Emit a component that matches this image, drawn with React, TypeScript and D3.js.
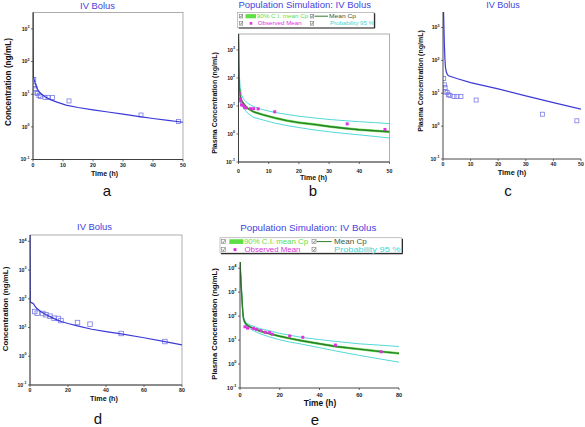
import React from "react";
import * as d3 from "d3";

// ---------- data ----------
// Observed mean concentrations, study 1 (panels a, b, c)
const obsTime1 = [0.25, 0.5, 0.75, 1, 1.5, 2, 2.5, 4, 5, 6.5, 12, 36, 48.5];
const obsConc1 = [28, 18, 15, 11, 10.5, 9, 8.5, 8, 8, 7.9, 6.2, 2.3, 1.45];
// Observed mean concentrations, study 2 (panels d, e)
const obsTime2 = [2.5, 3.8, 6.8, 8.4, 10.5, 12.7, 14.9, 16.3, 25, 31.6, 48, 71];
const obsConc2 = [36, 31.6, 30.8, 27.7, 24.8, 21.2, 20.6, 17.5, 14.9, 13.1, 6.2, 3.25];

// Fitted curve, panel a
const fitTimeA = [0, 0.05, 0.15, 0.3, 0.6, 1, 1.5, 2, 3, 4, 6, 8, 11, 15, 20, 25, 30, 35, 40, 45, 50];
const fitConcA = [5000, 300, 35, 30, 24, 18, 14, 12, 9.8, 8.3, 6.7, 5.7, 4.6, 3.9, 3.3, 2.85, 2.45, 2.1, 1.8, 1.58, 1.38];
// Predicted curve, panel c
const fitTimeC = [0.2, 0.35, 0.5, 0.7, 0.9, 1.2, 1.6, 2, 5, 10, 20, 30, 40, 50];
const fitConcC = [3000, 900, 300, 110, 60, 44, 37, 34, 28, 21, 13.5, 8.3, 5.2, 3.3];
// Fitted curve, panel d
const fitTimeD = [0, 0.15, 0.5, 1, 1.8, 2.5, 3.5, 5, 6.2, 8, 10.5, 13, 16, 20, 25, 32.5, 40, 48, 60, 71, 80];
const fitConcD = [20000, 77, 75, 72, 67, 57, 47, 39, 34, 29, 24, 20, 16.5, 13.8, 11.4, 8.7, 7.2, 6.0, 4.4, 3.25, 2.5];

// Population simulation, panel b
const simTimeB = [0, 0.1, 0.3, 0.55, 1, 1.5, 2, 3, 5, 8, 12, 16, 20, 25, 30, 35, 40, 45, 50];
const simMeanB = [4000, 300, 45, 24, 16, 13, 11, 8.3, 6.2, 4.9, 3.75, 3.0, 2.55, 2.2, 1.85, 1.6, 1.42, 1.3, 1.2];
const simCiHighB = [4000, 320, 48, 25.5, 17, 13.8, 11.7, 8.8, 6.6, 5.2, 4.0, 3.2, 2.72, 2.35, 1.98, 1.71, 1.52, 1.39, 1.28];
const simCiLowB = [4000, 280, 42, 22.5, 15, 12.2, 10.3, 7.8, 5.8, 4.6, 3.5, 2.8, 2.38, 2.05, 1.73, 1.5, 1.33, 1.22, 1.12];
const simP95HighB = [4000, 1000, 120, 45, 25, 19, 16, 12.5, 9.5, 7.4, 5.9, 5.0, 4.3, 3.75, 3.3, 3.0, 2.75, 2.55, 2.35];
const simP95LowB = [4000, 100, 25, 15, 11, 9, 7.5, 5.6, 3.9, 3.2, 2.45, 2.0, 1.7, 1.4, 1.2, 1.05, 0.93, 0.82, 0.72];

// Population simulation, panel e
const simTimeE = [0, 0.5, 1, 1.4, 1.8, 2.5, 3.4, 5, 7, 10, 14.3, 20, 25, 31, 40, 48.3, 60, 71, 80];
const simMeanE = [20000, 2500, 500, 150, 75, 55, 43, 36, 30, 24, 19, 14.5, 11.8, 9.4, 7.0, 5.4, 4.2, 3.3, 2.8];
const simCiHighE = [20000, 2650, 530, 160, 80, 59, 46, 38.5, 32, 25.7, 20.3, 15.5, 12.6, 10.1, 7.5, 5.8, 4.5, 3.55, 3.0];
const simCiLowE = [20000, 2350, 470, 140, 70, 51, 40, 33.5, 28, 22.3, 17.7, 13.5, 11.0, 8.7, 6.5, 5.0, 3.9, 3.05, 2.6];
const simP95HighE = [20000, 2800, 600, 180, 85, 62, 50, 43, 37, 30, 25, 19, 16, 13, 10.5, 8.8, 7.0, 6.1, 5.4];
const simP95LowE = [20000, 2200, 420, 120, 65, 48, 37, 30, 24, 18.5, 14, 10.3, 8.3, 6.8, 4.8, 3.5, 2.3, 1.6, 1.2];

// ticks and labels
const xTicks50 = [0, 10, 20, 30, 40, 50];
const xTicks80 = [0, 20, 40, 60, 80];
const yExps3 = [-1, 0, 1, 2, 3];
const yExps4 = [-1, 0, 1, 2, 3, 4];
const legendLabels = ["90% C.I. mean Cp", "Mean Cp", "Observed Mean", "Probability 95 %"];

// ---------- style ----------
const FONT = "'Liberation Sans', Arial, Helvetica, sans-serif";
const BLUE = "#3a3ad6";
const OBS_BLUE = "#7a7ae8";
const TITLE_BLUE = "#4444e0";
const MAGENTA = "#dd33dd";
const CYAN = "#3fd4d4";
const GREEN_DARK = "#2c7d2c";
const GREEN_LIGHT = "#5ede45";

type Geo = {
  id: string;
  x0: number; x1: number; top: number; bottom: number;
  xMax: number; yMax: number; xTicks: number[]; yExps: number[];
  frame: boolean;
  title: string; titleX: number; titleY: number; titleSize: number;
  yLabel: string; yLabelX: number; yLabelY: number; yLabelSize: number;
  xLabelX: number; xLabelY: number; xLabelSize: number; xTickY: number;
  tickSize: number;
  letter: string; letterX: number; letterY: number;
};

type Sc = { x: d3.ScaleLinear<number, number>; y: d3.ScaleLogarithmic<number, number> };

function Panel({ g, render }: { g: Geo; render: (s: Sc) => React.ReactNode }) {
  const x = d3.scaleLinear().domain([0, g.xMax]).range([g.x0, g.x1]);
  const y = d3.scaleLog().domain([0.1, g.yMax]).range([g.bottom, g.top]);
  const ts = g.tickSize;
  return (
    <g>
      <defs>
        <clipPath id={`clip-${g.id}`}>
          <rect x={g.x0} y={g.top} width={g.x1 - g.x0} height={g.bottom - g.top} />
        </clipPath>
      </defs>
      {g.frame && (
        <rect x={g.x0} y={g.top} width={g.x1 - g.x0} height={g.bottom - g.top} fill="none" stroke="#9a9a9a" strokeWidth={0.8} />
      )}
      <g clipPath={`url(#clip-${g.id})`}>{render({ x, y })}</g>
      <line x1={g.x0} x2={g.x0} y1={g.top} y2={g.bottom} stroke="#333" strokeWidth={0.9} />
      <line x1={g.x0} x2={g.x1} y1={g.bottom} y2={g.bottom} stroke="#333" strokeWidth={0.9} />
      {g.yExps.map((e) => {
        const yy = y(Math.pow(10, e));
        return (
          <g key={`y${e}`}>
            <line x1={g.x0 - 2} x2={g.x0} y1={yy} y2={yy} stroke="#333" strokeWidth={0.7} />
            <text x={g.x0 - 3.5} y={yy + ts * 0.35} fontSize={ts} fontFamily={FONT} fontWeight="bold" textAnchor="end" fill="#222">
              10<tspan dy={-ts * 0.5} fontSize={ts * 0.7}>{e}</tspan>
            </text>
          </g>
        );
      })}
      {g.xTicks.map((t) => (
        <g key={`x${t}`}>
          <line x1={x(t)} x2={x(t)} y1={g.bottom} y2={g.bottom + 2} stroke="#333" strokeWidth={0.7} />
          <text x={x(t)} y={g.xTickY} fontSize={ts} fontFamily={FONT} fontWeight="bold" textAnchor="middle" fill="#222">{t}</text>
        </g>
      ))}
      <text x={g.titleX} y={g.titleY} fontSize={g.titleSize} fontFamily={FONT} textAnchor="middle" fill={TITLE_BLUE}>{g.title}</text>
      <text transform={`translate(${g.yLabelX},${g.yLabelY}) rotate(-90)`} fontSize={g.yLabelSize} fontFamily={FONT} fontWeight="bold" textAnchor="middle" dominantBaseline="central" fill="#111">{g.yLabel}</text>
      <text x={g.xLabelX} y={g.xLabelY} fontSize={g.xLabelSize} fontFamily={FONT} fontWeight="bold" textAnchor="middle" dominantBaseline="central" fill="#111">Time (h)</text>
      <text x={g.letterX} y={g.letterY} fontSize={15} fontFamily={FONT} textAnchor="middle" fill="#111">{g.letter}</text>
    </g>
  );
}

function zip(t: number[], c: number[]): [number, number][] {
  return t.map((v, i) => [v, c[i]]);
}

function linePath(s: Sc, t: number[], c: number[]) {
  return d3.line<[number, number]>().x((d) => s.x(d[0])).y((d) => s.y(d[1]))(zip(t, c)) || "";
}

function bandPath(s: Sc, t: number[], lo: number[], hi: number[]) {
  return (
    d3
      .area<number>()
      .x((_, i) => s.x(t[i]))
      .y0((_, i) => s.y(lo[i]))
      .y1((_, i) => s.y(hi[i]))(t) || ""
  );
}

function HollowSquares({ s, t, c, size }: { s: Sc; t: number[]; c: number[]; size: number }) {
  return (
    <g>
      {t.map((v, i) => (
        <rect key={i} x={s.x(v) - size / 2} y={s.y(c[i]) - size / 2} width={size} height={size} fill="none" stroke={OBS_BLUE} strokeWidth={0.8} />
      ))}
    </g>
  );
}

function FilledSquares({ s, t, c, size }: { s: Sc; t: number[]; c: number[]; size: number }) {
  return (
    <g>
      {t.map((v, i) => (
        <rect key={i} x={s.x(v) - size / 2} y={s.y(c[i]) - size / 2} width={size} height={size} fill={MAGENTA} />
      ))}
    </g>
  );
}

function SimLayer({ s, t, mean, ciLo, ciHi, pLo, pHi }: { s: Sc; t: number[]; mean: number[]; ciLo: number[]; ciHi: number[]; pLo: number[]; pHi: number[] }) {
  return (
    <g>
      <path d={linePath(s, t, pHi)} fill="none" stroke={CYAN} strokeWidth={0.9} />
      <path d={linePath(s, t, pLo)} fill="none" stroke={CYAN} strokeWidth={0.9} />
      <path d={bandPath(s, t, ciLo, ciHi)} fill={GREEN_LIGHT} stroke={GREEN_LIGHT} strokeWidth={0.8} />
      <path d={linePath(s, t, mean)} fill="none" stroke={GREEN_DARK} strokeWidth={1.4} />
    </g>
  );
}

function CheckBox({ x, y, sz }: { x: number; y: number; sz: number }) {
  return (
    <g>
      <rect x={x - sz / 2} y={y - sz / 2} width={sz} height={sz} fill="#fff" stroke="#666" strokeWidth={0.5} />
      <path d={`M${x - sz * 0.3},${y} L${x - sz * 0.05},${y + sz * 0.3} L${x + sz * 0.35},${y - sz * 0.35}`} fill="none" stroke="#333" strokeWidth={0.5} />
    </g>
  );
}

type LegendGeo = {
  x0: number; x1: number; y0: number; y1: number; row1: number; row2: number; fs: number;
  cb1: number; rectX0: number; rectX1: number; text1: number; sqX: number; text3: number;
  cb2: number; lineX0: number; lineX1: number; text2: number; text4: number;
  len: number[];
};

function Legend({ l }: { l: LegendGeo }) {
  const cb = l.fs * 0.6;
  const adj = "spacingAndGlyphs";
  return (
    <g fontFamily={FONT} fontSize={l.fs}>
      <line x1={l.x0 + 1} x2={l.x1 + 0.8} y1={l.y1 + 0.6} y2={l.y1 + 0.6} stroke="#111" strokeWidth={1.2} />
      <line x1={l.x1 + 0.6} x2={l.x1 + 0.6} y1={l.y0 + 1} y2={l.y1 + 0.6} stroke="#111" strokeWidth={1.2} />
      <rect x={l.x0} y={l.y0} width={l.x1 - l.x0} height={l.y1 - l.y0} fill="#fff" stroke="#888" strokeWidth={0.5} />
      <CheckBox x={l.cb1} y={l.row1} sz={cb} />
      <rect x={l.rectX0} y={l.row1 - l.fs * 0.35} width={l.rectX1 - l.rectX0} height={l.fs * 0.7} fill={GREEN_LIGHT} />
      <text x={l.text1} y={l.row1} dominantBaseline="central" fill={GREEN_LIGHT} textLength={l.len[0]} lengthAdjust={adj}>{legendLabels[0]}</text>
      <CheckBox x={l.cb2} y={l.row1} sz={cb} />
      <line x1={l.lineX0} x2={l.lineX1} y1={l.row1} y2={l.row1} stroke={GREEN_DARK} strokeWidth={1} />
      <text x={l.text2} y={l.row1} dominantBaseline="central" fill="#3a5a3a" textLength={l.len[1]} lengthAdjust={adj}>{legendLabels[1]}</text>
      <CheckBox x={l.cb1} y={l.row2} sz={cb} />
      <rect x={l.sqX - l.fs * 0.22} y={l.row2 - l.fs * 0.22} width={l.fs * 0.44} height={l.fs * 0.44} fill={MAGENTA} />
      <text x={l.text3} y={l.row2} dominantBaseline="central" fill={MAGENTA} textLength={l.len[2]} lengthAdjust={adj}>{legendLabels[2]}</text>
      <CheckBox x={l.cb2} y={l.row2} sz={cb} />
      <text x={l.text4} y={l.row2} dominantBaseline="central" fill={CYAN} textLength={l.len[3]} lengthAdjust={adj}>{legendLabels[3]}</text>
    </g>
  );
}

const geoA: Geo = {
  id: "a", x0: 33, x1: 183, top: 12.5, bottom: 159.5, xMax: 50, yMax: Math.pow(10, 3.5), xTicks: xTicks50, yExps: yExps3, frame: true,
  title: "IV Bolus", titleX: 97.5, titleY: 8.5, titleSize: 9.4,
  yLabel: "Concentration (ng/mL)", yLabelX: 8.5, yLabelY: 82, yLabelSize: 8.2,
  xLabelX: 104.5, xLabelY: 173.5, xLabelSize: 7, xTickY: 167, tickSize: 5.2,
  letter: "a", letterX: 107, letterY: 196,
};
const geoB: Geo = {
  id: "b", x0: 238.5, x1: 389.5, top: 34, bottom: 162, xMax: 50, yMax: Math.pow(10, 3.57), xTicks: xTicks50, yExps: yExps3, frame: true,
  title: "Population Simulation: IV Bolus", titleX: 304.7, titleY: 8.3, titleSize: 9.5,
  yLabel: "Plasma Concentration (ng/mL)", yLabelX: 214, yLabelY: 103, yLabelSize: 7,
  xLabelX: 313.5, xLabelY: 177, xLabelSize: 7, xTickY: 172.5, tickSize: 5.2,
  letter: "b", letterX: 313, letterY: 196,
};
const geoC: Geo = {
  id: "c", x0: 443, x1: 581, top: 12, bottom: 159, xMax: 50, yMax: Math.pow(10, 3.47), xTicks: xTicks50, yExps: yExps3, frame: false,
  title: "IV Bolus", titleX: 503, titleY: 8.3, titleSize: 9,
  yLabel: "Plasma Concentration (ng/mL)", yLabelX: 420.7, yLabelY: 81, yLabelSize: 7,
  xLabelX: 512, xLabelY: 172, xLabelSize: 7.4, xTickY: 166.3, tickSize: 5.2,
  letter: "c", letterX: 508, letterY: 196,
};
const geoD: Geo = {
  id: "d", x0: 30, x1: 182, top: 235, bottom: 385, xMax: 80, yMax: Math.pow(10, 4.22), xTicks: xTicks80, yExps: yExps4, frame: true,
  title: "IV Bolus", titleX: 94.5, titleY: 230.3, titleSize: 9.4,
  yLabel: "Concentration (ng/mL)", yLabelX: 5.5, yLabelY: 309, yLabelSize: 7.9,
  xLabelX: 104, xLabelY: 398.3, xLabelSize: 7.2, xTickY: 392, tickSize: 5.2,
  letter: "d", letterX: 98, letterY: 424,
};
const geoE: Geo = {
  id: "e", x0: 240, x1: 399, top: 262, bottom: 388, xMax: 80, yMax: Math.pow(10, 4.26), xTicks: xTicks80, yExps: yExps4, frame: false,
  title: "Population Simulation: IV Bolus", titleX: 308.3, titleY: 230.6, titleSize: 9.75,
  yLabel: "Plasma Concentration (ng/mL)", yLabelX: 214, yLabelY: 324, yLabelSize: 7.7,
  xLabelX: 320, xLabelY: 402.7, xLabelSize: 8.4, xTickY: 397, tickSize: 5.6,
  letter: "e", letterX: 315, letterY: 425,
};

const legendB: LegendGeo = {
  x0: 237.7, x1: 374, y0: 12.3, y1: 27.3, row1: 16.2, row2: 23.4, fs: 5.9,
  cb1: 241, rectX0: 245.5, rectX1: 256, text1: 256.7, sqX: 251, text3: 257.7,
  cb2: 312, lineX0: 314.5, lineX1: 328, text2: 329, text4: 330,
  len: [51.6, 27, 44, 44],
};
const legendE: LegendGeo = {
  x0: 220, x1: 401.7, y0: 237.8, y1: 253, row1: 241.6, row2: 249.6, fs: 6.7,
  cb1: 223.5, rectX0: 229.3, rectX1: 243.3, text1: 244, sqX: 235, text3: 244.5,
  cb2: 314, lineX0: 316.7, lineX1: 331.7, text2: 334, text4: 334,
  len: [64, 32.7, 56, 66.5],
};

export default function App() {
  return (
    <div style={{ position: "fixed", left: 0, top: 0, width: 585, height: 427, background: "#fff" }}>
      <svg width={585} height={427} viewBox="0 0 585 427" style={{ display: "block" }}>
        <rect x={0} y={0} width={585} height={427} fill="#fff" />
        <Panel
          g={geoA}
          render={(s) => (
            <g>
              <HollowSquares s={s} t={obsTime1} c={obsConc1} size={4} />
              <path d={linePath(s, fitTimeA, fitConcA)} fill="none" stroke={BLUE} strokeWidth={1.2} />
            </g>
          )}
        />
        <Panel
          g={geoB}
          render={(s) => (
            <g>
              <SimLayer s={s} t={simTimeB} mean={simMeanB} ciLo={simCiLowB} ciHi={simCiHighB} pLo={simP95LowB} pHi={simP95HighB} />
              <FilledSquares s={s} t={obsTime1} c={obsConc1} size={3} />
            </g>
          )}
        />
        <Legend l={legendB} />
        <Panel
          g={geoC}
          render={(s) => (
            <g>
              <HollowSquares s={s} t={obsTime1} c={obsConc1} size={4} />
              <path d={linePath(s, fitTimeC, fitConcC)} fill="none" stroke={BLUE} strokeWidth={1.2} />
            </g>
          )}
        />
        <Panel
          g={geoD}
          render={(s) => (
            <g>
              <HollowSquares s={s} t={obsTime2} c={obsConc2} size={4.5} />
              <path d={linePath(s, fitTimeD, fitConcD)} fill="none" stroke={BLUE} strokeWidth={1.2} />
            </g>
          )}
        />
        <Panel
          g={geoE}
          render={(s) => (
            <g>
              <SimLayer s={s} t={simTimeE} mean={simMeanE} ciLo={simCiLowE} ciHi={simCiHighE} pLo={simP95LowE} pHi={simP95HighE} />
              <FilledSquares s={s} t={obsTime2} c={obsConc2} size={3} />
            </g>
          )}
        />
        <Legend l={legendE} />
      </svg>
    </div>
  );
}
